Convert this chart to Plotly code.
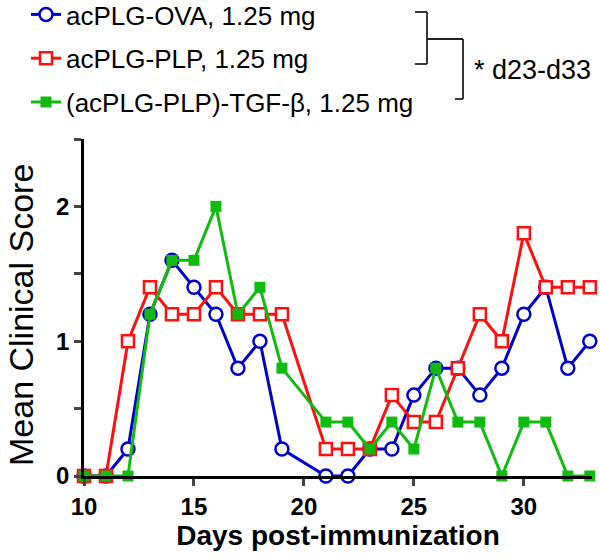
import plotly.graph_objects as go

days = [10, 11, 12, 13, 14, 15, 16, 17, 18, 19, 21, 22, 23, 24, 25, 26, 27, 28, 29, 30, 31, 32, 33]
ova = [0, 0, 0.2, 1.2, 1.6, 1.4, 1.2, 0.8, 1.0, 0.2, 0, 0, 0.2, 0.2, 0.6, 0.8, 0.8, 0.6, 0.8, 1.2, 1.4, 0.8, 1.0]
plp = [0, 0, 1.0, 1.4, 1.2, 1.2, 1.4, 1.2, 1.2, 1.2, 0.2, 0.2, 0.2, 0.6, 0.4, 0.4, 0.8, 1.2, 1.0, 1.8, 1.4, 1.4, 1.4]
tgf = [0, 0, 0, 1.2, 1.6, 1.6, 2.0, 1.2, 1.4, 0.8, 0.4, 0.4, 0.2, 0.4, 0.2, 0.8, 0.4, 0.4, 0, 0.4, 0.4, 0, 0]
names = ["acPLG-OVA, 1.25 mg", "acPLG-PLP, 1.25 mg", "(acPLG-PLP)-TGF-\u03b2, 1.25 mg"]
xticks = [10, 15, 20, 25, 30]
yticks = [0, 0.5, 1, 1.5, 2, 2.5]
ytext = ["0", "", "1", "", "2", ""]

BLUE = "#0000CC"
RED = "#FF1010"
GREEN = "#10BB10"
FONT = "Liberation Sans, Arial, sans-serif"

W, H = 600, 558
L, R, T, B = 84, 8, 139, 82
pw, ph = W - L - R, H - T - B

def px(sx):
    return (sx - L) / pw

def py(sy):
    return (H - B - sy) / ph

fig = go.Figure()
fig.add_trace(go.Scatter(x=days, y=ova, name=names[0], mode="lines+markers",
                         legendgroup="a",
                         line=dict(color=BLUE, width=3),
                         marker=dict(symbol="circle", size=13, color="white",
                                     line=dict(color=BLUE, width=2.5)),
                         cliponaxis=False))
fig.add_trace(go.Scatter(x=days, y=plp, name=names[1], mode="lines+markers",
                         legendgroup="b",
                         line=dict(color=RED, width=3),
                         marker=dict(symbol="square", size=12, color="white",
                                     line=dict(color=RED, width=2.5)),
                         cliponaxis=False))
fig.add_trace(go.Scatter(x=days, y=tgf, name=names[2], mode="lines+markers",
                         legendgroup="c",
                         line=dict(color=GREEN, width=3),
                         marker=dict(symbol="square", size=11, color=GREEN,
                                     line=dict(color=GREEN, width=0)),
                         cliponaxis=False))

# bracket
bk = dict(color="#222222", width=1.8)
shapes = []
def seg(x0, y0, x1, y1):
    shapes.append(dict(type="line", xref="paper", yref="paper",
                       x0=px(x0), y0=py(y0), x1=px(x1), y1=py(y1), line=bk))
seg(415, 12, 427, 12)
seg(427, 12, 427, 64)
seg(427, 64, 415, 64)
seg(427, 39, 463, 39)
seg(463, 39, 463, 99)
seg(463, 99, 455, 99)

fig.update_layout(
    width=W, height=H,
    margin=dict(l=L, r=R, t=T, b=B, autoexpand=False),
    paper_bgcolor="white", plot_bgcolor="white",
    font=dict(family=FONT, color="black"),
    shapes=shapes,
    showlegend=True,
    legend=dict(x=px(26), y=py(-9), xanchor="left", yanchor="top",
                font=dict(size=26, color="black", family=FONT),
                bgcolor="rgba(0,0,0,0)", traceorder="grouped",
                tracegroupgap=7, itemwidth=30),
    annotations=[
        dict(text="* d23-d33", xref="paper", yref="paper",
             x=px(472), y=py(70), xanchor="left", yanchor="middle",
             showarrow=False, font=dict(size=27, color="black", family=FONT)),
        dict(text="Mean Clinical Score", xref="paper", yref="paper",
             x=px(0), y=py(315), xanchor="left", yanchor="middle",
             textangle=-90, showarrow=False,
             font=dict(size=34, color="black", family=FONT)),
    ],
    xaxis=dict(range=[10, 33.1], tickvals=xticks, ticks="outside", ticklen=7,
               tickwidth=2.5, showline=True, linewidth=2.5, linecolor="black",
               showgrid=False, zeroline=False, automargin=False,
               tickfont=dict(size=24, family=FONT, weight="bold"),
               title=dict(text="<b>Days post-immunization</b>",
                          font=dict(size=28, family=FONT), standoff=6)),
    yaxis=dict(range=[0, 2.5], tickvals=yticks, ticktext=ytext, ticks="outside",
               ticklen=7, tickwidth=2.5, showline=True, linewidth=2.5,
               linecolor="black", showgrid=False, zeroline=False, automargin=False,
               tickfont=dict(size=24, family=FONT, weight="bold")),
)

fig.write_html("out.html", config={"displayModeBar": False},
               post_script="document.body.style.margin='0px';")
